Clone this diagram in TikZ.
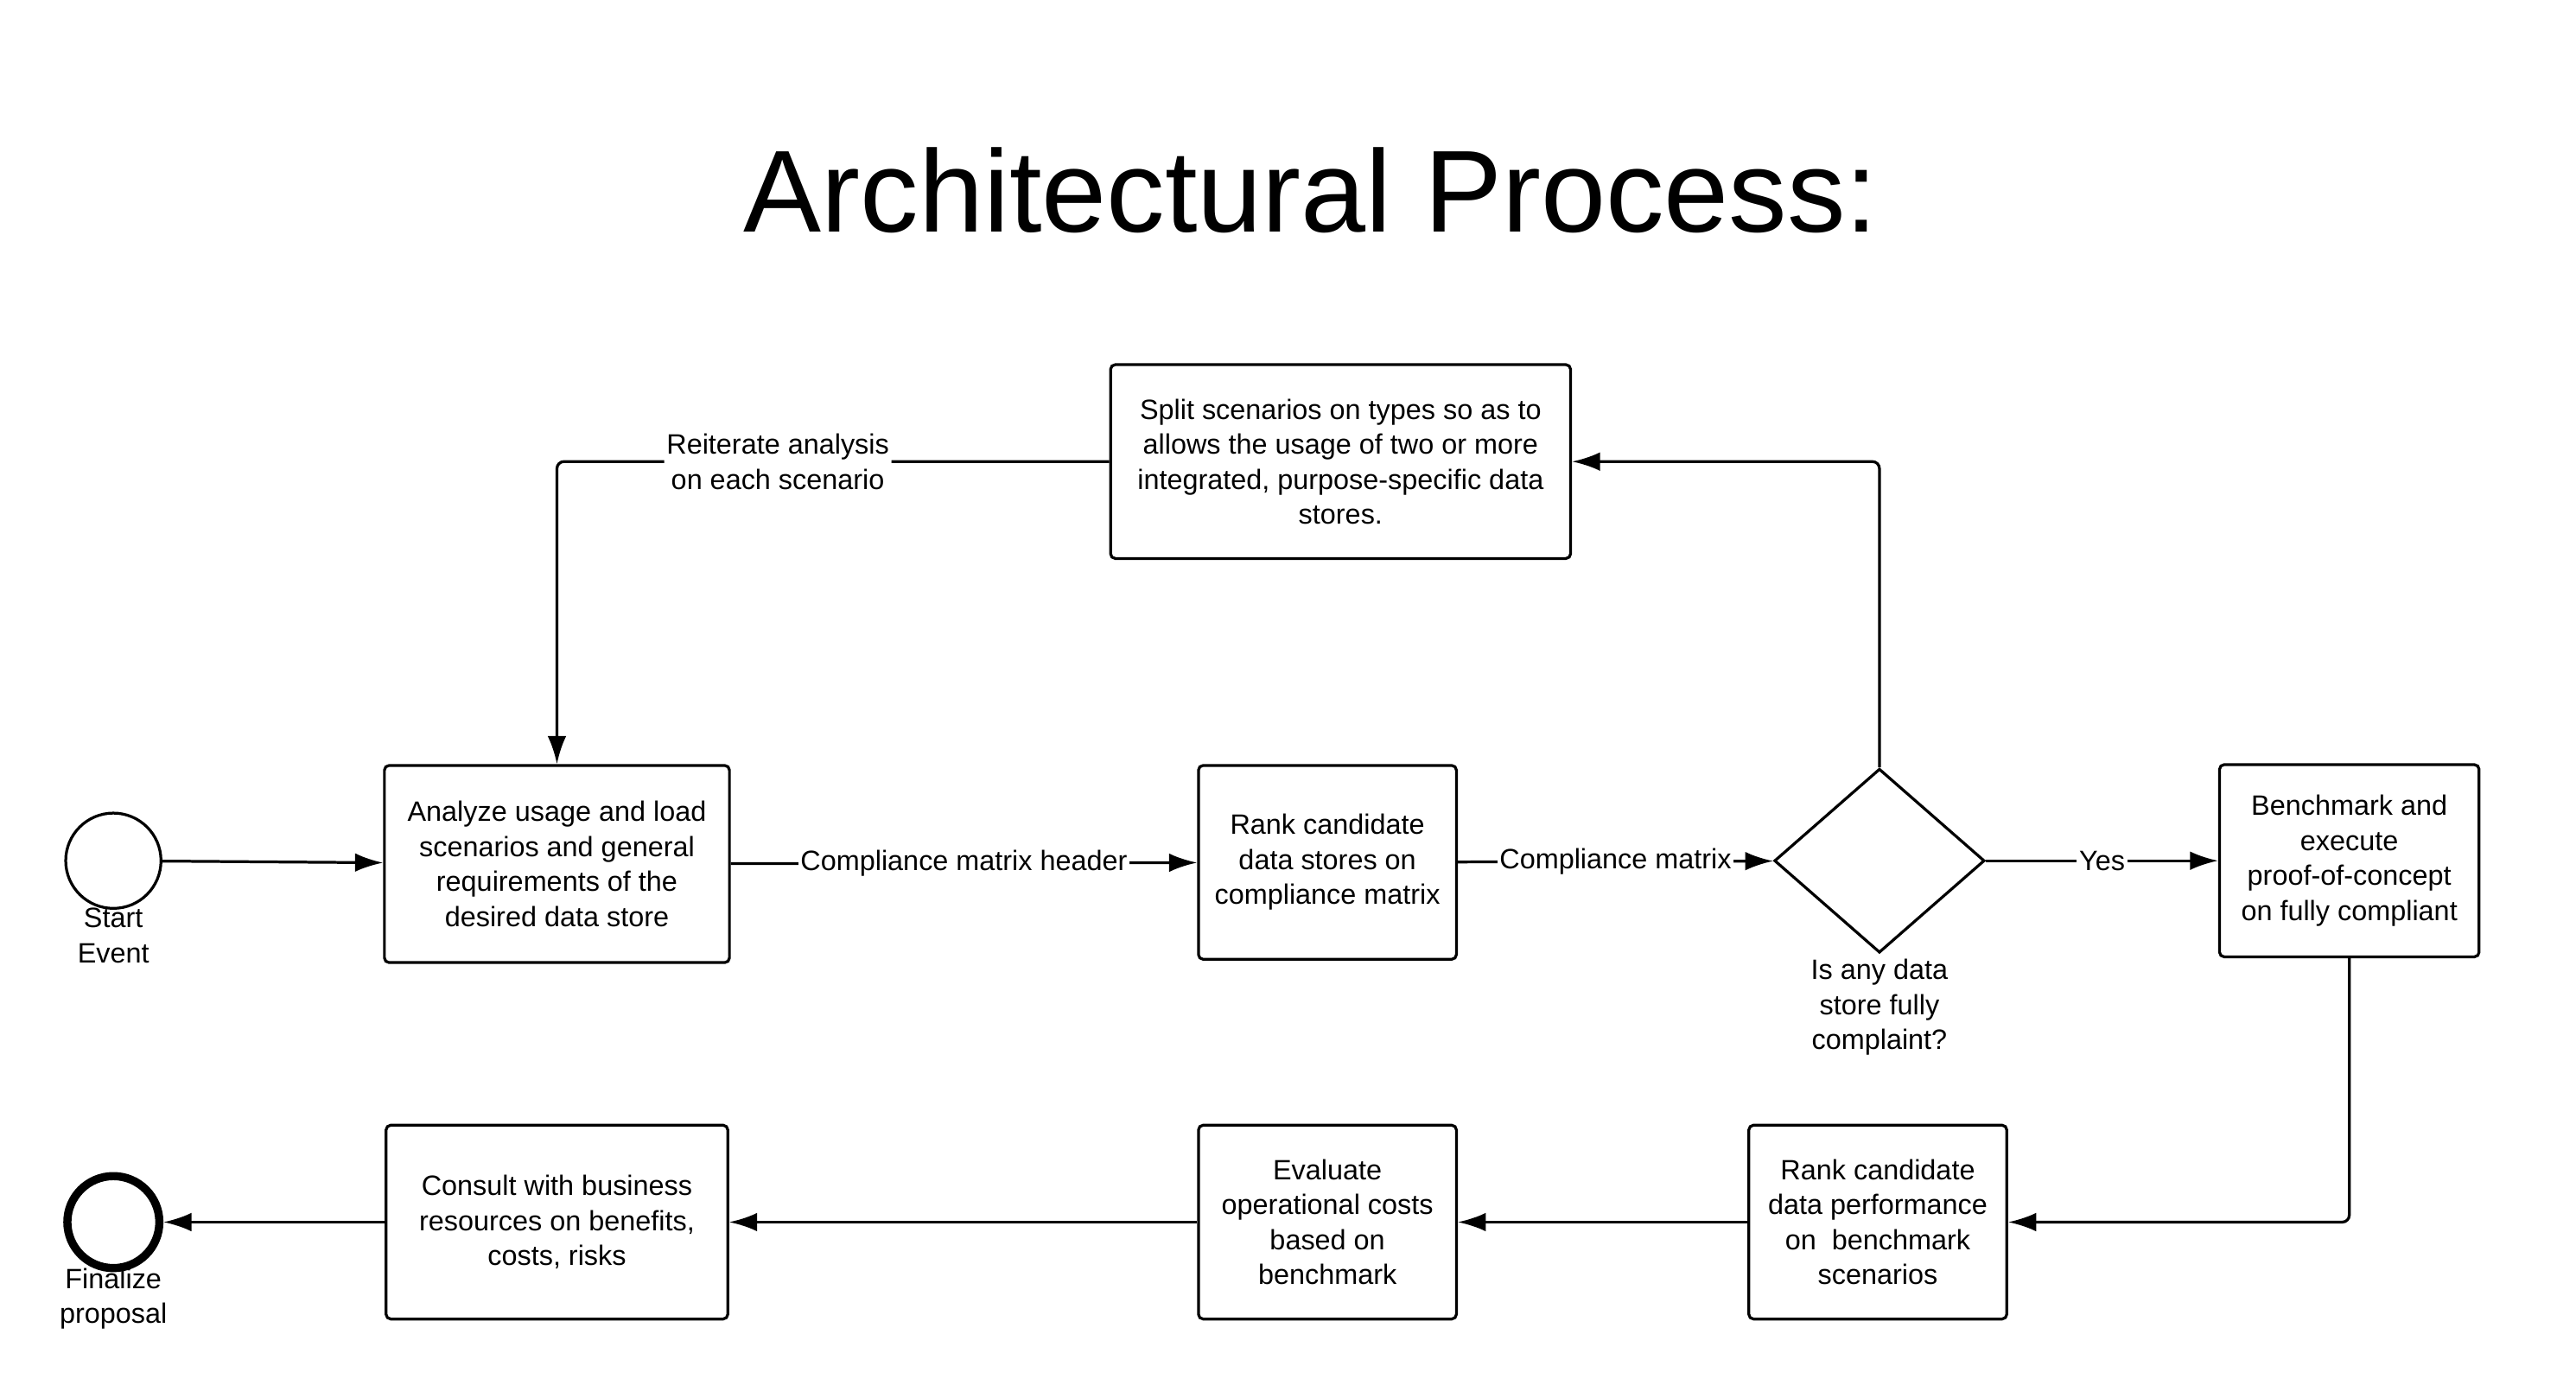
\documentclass[tikz,border=0pt]{standalone}
\usepackage{fontspec}
\setmainfont{Liberation Sans}
\usetikzlibrary{shapes.geometric,arrows.meta,positioning}

\begin{document}
\begin{tikzpicture}[x=0.0495cm,y=-0.0495cm,->,>={Latex[length=24pt,width=16pt]},line width=2.4pt,
  task/.style={draw,rounded corners=4pt,align=center,inner sep=0pt,font=\fontsize{24}{30}\selectfont},
  lbl/.style={fill=white,inner sep=2pt,font=\fontsize{24}{30}\selectfont,align=center},
  txt/.style={font=\fontsize{24}{30}\selectfont,align=center}]
\useasboundingbox (0,0) rectangle (1568,843);
\node[font=\fontsize{100}{120}\selectfont] (title) at (798,116) {Architectural Process:};

\node[draw,circle,minimum size=58*0.0495cm] (start) at (69,524) {};
\node[txt,below=-6pt of start] {Start\\Event};
\node[task,minimum width=210*0.0495cm,minimum height=120*0.0495cm] (analyze) at (339,526)
  {Analyze usage and load\\scenarios and general\\requirements of the\\desired data store};
\node[task,minimum width=157*0.0495cm,minimum height=118*0.0495cm] (rank) at (808,525)
  {Rank candidate\\data stores on\\compliance matrix};
\node[draw,diamond,minimum width=128*0.0495cm,minimum height=112*0.0495cm,inner sep=0pt] (check) at (1144,524) {};
\node[txt,below=0pt of check] {Is any data\\store fully\\complaint?};
\node[task,minimum width=158*0.0495cm,minimum height=117*0.0495cm] (bench) at (1430,524)
  {Benchmark and\\execute\\proof-of-concept\\on fully compliant};
\node[task,minimum width=280*0.0495cm,minimum height=118*0.0495cm] (split) at (816,281)
  {Split scenarios on types so as to\\allows the usage of two or more\\integrated, purpose-specific data\\stores.};
\node[task,minimum width=157*0.0495cm,minimum height=118*0.0495cm] (rankperf) at (1143,744)
  {Rank candidate\\data performance\\on~ benchmark\\scenarios};
\node[task,minimum width=157*0.0495cm,minimum height=118*0.0495cm] (evaluate) at (808,744)
  {Evaluate\\operational costs\\based on\\benchmark};
\node[task,minimum width=208*0.0495cm,minimum height=118*0.0495cm] (consult) at (339,744)
  {Consult with business\\resources on benefits,\\costs, risks};
\node[draw,circle,line width=7pt,minimum size=56*0.0495cm] (finish) at (69,744) {};
\node[txt,below=-8pt of finish] {Finalize\\proposal};

\path (start) edge (analyze);
\path (analyze) edge node[lbl] {Compliance matrix header} (rank);
\path (rank) edge node[lbl] {Compliance matrix} (check);
\path (check) edge node[lbl] {Yes} (bench);
\draw[rounded corners=6pt] (check.north) |- (split.east);
\draw[rounded corners=6pt] (split.west) -| node[lbl,pos=0.3] {Reiterate analysis\\on each scenario} (analyze.north);
\draw[rounded corners=6pt] (bench.south) |- (rankperf.east);
\path (rankperf) edge (evaluate);
\path (evaluate) edge (consult);
\path (consult) edge (finish);
\end{tikzpicture}
\end{document}
